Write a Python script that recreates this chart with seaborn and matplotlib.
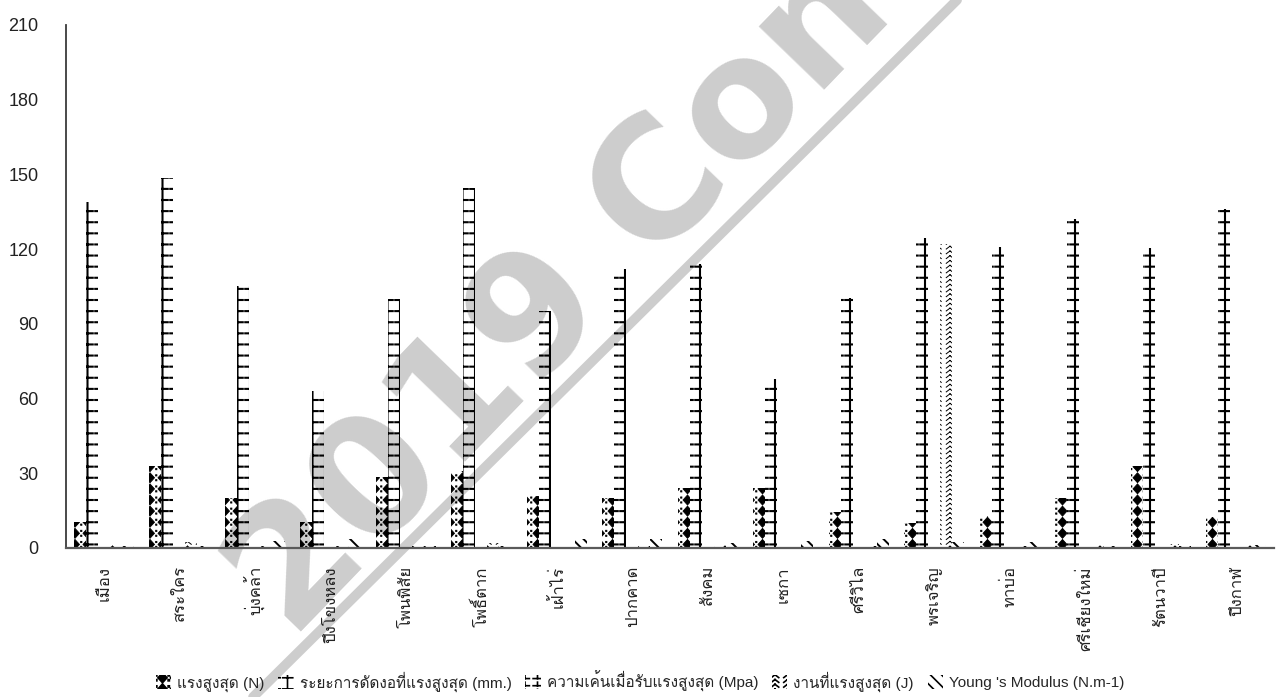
import warnings
import numpy as np
import pandas as pd
import matplotlib
matplotlib.use("Agg")
import matplotlib.pyplot as plt
from matplotlib import hatch as mhatch
from matplotlib.path import Path
from matplotlib.patches import Patch
from matplotlib.lines import Line2D
from matplotlib import font_manager as fm
from matplotlib.ft2font import FT2Font
import seaborn as sns

warnings.filterwarnings("ignore")

# ---------------------------------------------------------------- data
districts = ["เมือง", "สระใคร", "บุ่งคล้า", "ปึงโขงหลง", "โพนพิสัย", "โพธิ์ตาก",
             "เฝ้าไร่", "ปากคาด", "สังคม", "เซกา", "ศรีวิไล", "พรเจริญ",
             "ทาบ่อ", "ศรีเชียงใหม่", "รัตนวาปี", "ปึงกาฬ"]

max_force_n = [10.5, 33, 20, 10.5, 28.5, 31, 21, 20, 24, 24, 14.5, 10, 13, 20, 33, 12.5]
bend_at_max_mm = [139, 148.5, 105, 63, 100, 144.5, 95, 112, 114, 68, 100.5, 124.5,
                  121, 132, 120.5, 136]
stress_mpa = [0.3, 0.3, 0.3, 0.3, 0.3, 0.3, 0.3, 0.3, 0.3, 0.3, 0.3, 0.3, 0.3, 0.3, 0.3, 0.3]
work_j = [1.0, 2.5, 0.8, 0.6, 0.6, 1.8, 0.5, 0.6, 1.0, 0.5, 0.6, 122, 0.6, 1.0, 1.5, 1.0]
youngs_modulus = [0.6, 0.6, 3.0, 3.8, 0.6, 0.6, 3.5, 3.5, 2.0, 3.0, 3.5, 2.5, 2.5, 0.6, 0.6, 1.0]

series_names = ["แรงสูงสุด (N)", "ระยะการดัดงอที่แรงสูงสุด (mm.)",
                "ความเค้นเมื่อรับแรงสูงสุด (Mpa)", "งานที่แรงสูงสุด (J)",
                "Young 's Modulus (N.m-1)"]
y_ticks = [0, 30, 60, 90, 120, 150, 180, 210]


# ---------------------------------------------------------------- fonts
def _has_thai(path):
    try:
        return ord("ก") in FT2Font(path).get_charmap()
    except Exception:
        return False


thai_families = []
for entry in fm.fontManager.ttflist:
    if entry.name not in thai_families and _has_thai(entry.fname):
        thai_families.append(entry.name)

sns.set_theme(style="white")
plt.rcParams["font.family"] = ["Liberation Sans"] + thai_families[:2] + ["DejaVu Sans"]
plt.rcParams["hatch.linewidth"] = 1.2


# ---------------------------------------------------------------- pattern fills
class PatternHatch(mhatch.HatchPatternBase):
    key = ""

    def __init__(self, hatch, density):
        if self.key and hatch and self.key in hatch:
            verts, codes = self.build()
        else:
            verts, codes = np.empty((0, 2)), np.empty(0, dtype=Path.code_type)
        self._verts = np.asarray(verts, float).reshape(-1, 2)
        self._codes = np.asarray(codes, dtype=Path.code_type)
        self.num_vertices = len(self._verts)

    def set_vertices_and_codes(self, vertices, codes):
        vertices[:] = self._verts
        codes[:] = self._codes

    @staticmethod
    def segments(segs):
        verts, codes = [], []
        for (x0, y0), (x1, y1) in segs:
            verts += [(x0, y0), (x1, y1)]
            codes += [Path.MOVETO, Path.LINETO]
        return verts, codes

    @staticmethod
    def polygons(polys):
        verts, codes = [], []
        for poly in polys:
            verts += list(poly) + [poly[0]]
            codes += [Path.MOVETO] + [Path.LINETO] * (len(poly) - 1) + [Path.CLOSEPOLY]
        return verts, codes


class DiamondHatch(PatternHatch):
    """Column of solid diamonds with a pair of small dots beside each."""
    key = "D"

    def build(self):
        nx, ny = 8, 9
        cx, cy = 1.0 / nx, 1.0 / ny
        w, h = 0.36 * cx, 0.45 * cy
        d = 0.05 * cx
        polys = []
        for i in range(nx + 1):
            for j in range(ny + 1):
                x, y = i * cx, j * cy
                polys.append([(x, y - h), (x + w, y), (x, y + h), (x - w, y)])
                for dy in (-0.22 * cy, 0.22 * cy):
                    px, py = x - 0.5 * cx, y + dy
                    polys.append([(px - d, py - d), (px + d, py - d), (px + d, py + d), (px - d, py + d)])
        return self.polygons(polys)


class LadderHatch(PatternHatch):
    key = "L"

    def build(self):
        nx, ny = 8, 9
        cx, cy = 1.0 / nx, 1.0 / ny
        segs = []
        for i in range(nx + 1):
            x = i * cx
            segs.append(((x, 0.0), (x, 1.0)))
            for j in range(ny + 1):
                y = j * cy
                segs.append(((x - 0.38 * cx, y), (x + 0.42 * cx, y)))
        return self.segments(segs)


class StemHatch(PatternHatch):
    key = "T"

    def build(self):
        nx, ny = 8, 14
        cx, cy = 1.0 / nx, 1.0 / ny
        segs = []
        for i in range(nx + 1):
            x = i * cx
            for j in range(ny + 1):
                y = j * cy
                segs.append(((x - 0.35 * cx, y), (x + 0.35 * cx, y)))
                segs.append(((x, y), (x, y + 0.5 * cy)))
        return self.segments(segs)


class ChevronHatch(PatternHatch):
    key = "V"

    def build(self):
        nx, ny = 8, 21
        cx, cy = 1.0 / nx, 1.0 / ny
        segs = []
        for i in range(nx + 1):
            for j in range(ny + 1):
                x, y = i * cx, j * cy
                segs.append(((x - 0.3 * cx, y - 0.3 * cy), (x, y + 0.3 * cy)))
                segs.append(((x, y + 0.3 * cy), (x + 0.3 * cx, y - 0.3 * cy)))
        return self.segments(segs)


mhatch._hatch_types.extend([DiamondHatch, LadderHatch, StemHatch, ChevronHatch])

hatches = ["D", "L", "T", "V", "\\\\\\"]
hatch_widths = [0.6, 1.5, 1.2, 0.7, 1.4]

# ---------------------------------------------------------------- figure
fig = plt.figure(figsize=(12.8, 6.97), dpi=100)
fig.patch.set_facecolor("white")
ax = fig.add_axes([0.0516, 0.2138, 0.9437, 0.7504])
ax.set_facecolor("none")

# faint diagonal watermark behind the plot
fig.text(0.2284, 0.0808, "2019 Con", rotation=46, rotation_mode="anchor",
         ha="left", va="baseline", fontsize=119, fontweight="bold",
         color="#cdcdcd", zorder=-2, family="DejaVu Sans")
fig.add_artist(Line2D([0.1977, 0.7477], [0.0, 1.0], transform=fig.transFigure,
                      color="#cdcdcd", lw=7, zorder=-2))

long = pd.DataFrame({
    "district": np.tile(districts, len(series_names)),
    "series": np.repeat(series_names, len(districts)),
    "value": np.concatenate([max_force_n, bend_at_max_mm, stress_mpa, work_j, youngs_modulus]),
})

sns.barplot(data=long, x="district", y="value", hue="series", order=districts,
            hue_order=series_names, palette=["white"] * 5, saturation=1,
            width=0.8, errorbar=None, legend=False, ax=ax)

for container, hp, hw in zip(ax.containers, hatches, hatch_widths):
    for bar in container:
        bar.set_facecolor("none")
        bar.set_edgecolor("black")
        bar.set_linewidth(0)
        bar.set_hatch(hp)
        if hasattr(bar, "set_hatch_linewidth"):
            bar.set_hatch_linewidth(hw)

ax.set_ylim(0, 210)
ax.set_xlim(-0.5, len(districts) - 0.5)
ax.set_yticks(y_ticks)
ax.set_xlabel("")
ax.set_ylabel("")
ax.tick_params(axis="y", length=0, pad=20, labelsize=13, colors="#222222")
ax.tick_params(axis="x", length=0, pad=13, labelsize=12, colors="#222222")
plt.setp(ax.get_xticklabels(), rotation=90)

for side in ("top", "right"):
    ax.spines[side].set_visible(False)
ax.spines["left"].set_color("#3a3a3a")
ax.spines["left"].set_linewidth(1.3)
ax.spines["bottom"].set_color("#5a5a5a")
ax.spines["bottom"].set_linewidth(1.6)

handles = []
for hp, hw in zip(hatches, hatch_widths):
    p = Patch(facecolor="none", edgecolor="black", linewidth=0, hatch=hp)
    if hasattr(p, "set_hatch_linewidth"):
        p.set_hatch_linewidth(hw)
    handles.append(p)

fig.legend(handles, series_names, loc="lower center", bbox_to_anchor=(0.5, -0.012),
           ncol=5, frameon=False, fontsize=11, handlelength=1.0, handleheight=1.0,
           handletextpad=0.4, columnspacing=0.9)

fig.savefig("out.png", dpi=100, facecolor="white")
